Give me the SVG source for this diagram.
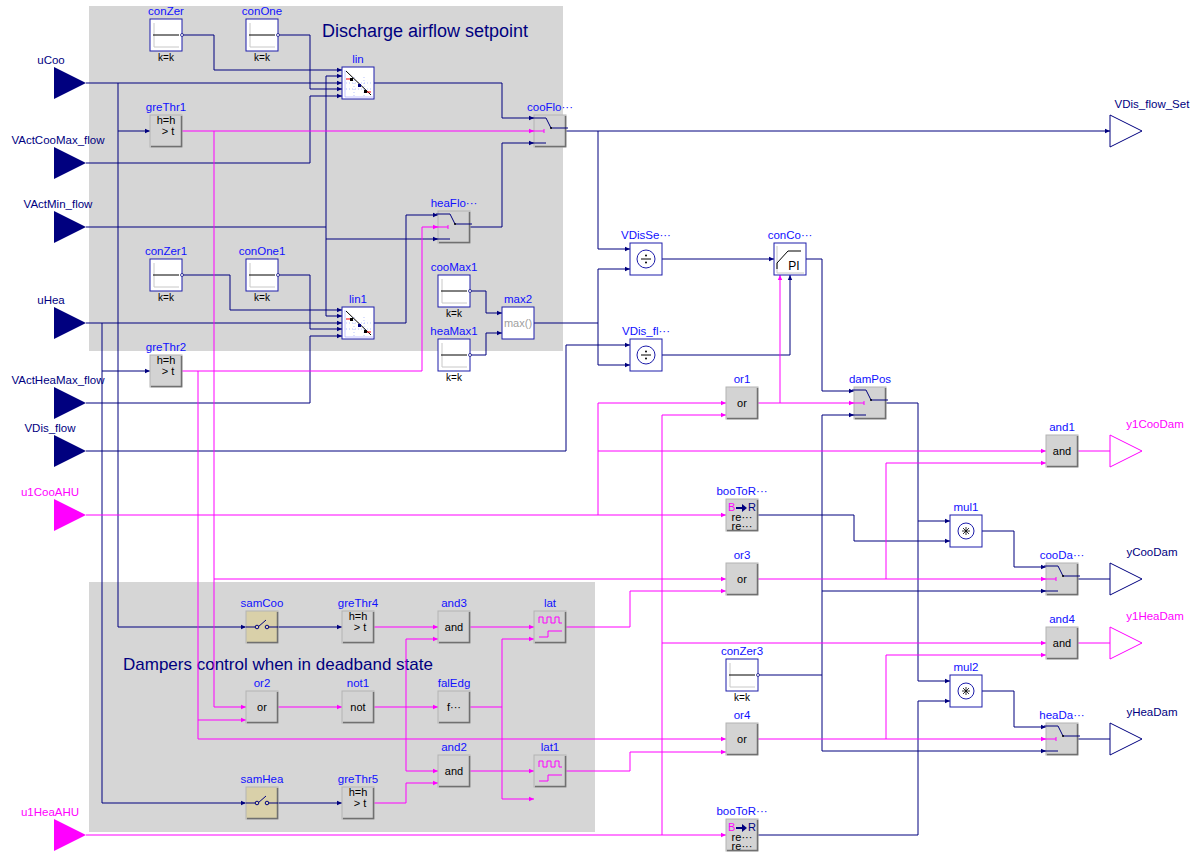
<svg xmlns="http://www.w3.org/2000/svg" width="1193" height="858" viewBox="0 0 1193 858">
<style>
text{font-family:"Liberation Sans",Arial,sans-serif}
.lb{font-size:11.5px;fill:#1010ff;text-anchor:middle}
.kk{font-size:10px;fill:#000;text-anchor:middle}
.in{font-size:11px;fill:#000;text-anchor:middle}
.pl{font-size:11.5px;fill:#00007f;text-anchor:middle}
.pm{font-size:11.5px;fill:#ff00ff;text-anchor:middle}
.n{fill:none;stroke:#00007f;stroke-width:1;marker-end:url(#an)}
.m{fill:none;stroke:#ff00ff;stroke-width:1;marker-end:url(#am)}
.nn{fill:none;stroke:#00007f;stroke-width:1}
.mm{fill:none;stroke:#ff00ff;stroke-width:1}
.big{font-size:18px;fill:#00007f}
</style>
<defs>
<marker id="an" markerWidth="6" markerHeight="6" refX="5" refY="3" orient="auto" markerUnits="userSpaceOnUse"><path d="M0,0.8 L5,3 L0,5.2z" fill="#00007f"/></marker>
<marker id="am" markerWidth="6" markerHeight="6" refX="5" refY="3" orient="auto" markerUnits="userSpaceOnUse"><path d="M0,0.8 L5,3 L0,5.2z" fill="#ff00ff"/></marker>
<g id="i-gb"><rect x="0" y="0" width="32" height="32" fill="#d3d3d3" stroke="#b4b4b4"/><path d="M1,31.5 H31.5 V1" fill="none" stroke="#707070" stroke-width="1.5"/></g>
<g id="i-wb"><rect x="0" y="0" width="32" height="32" fill="#fff" stroke="#1c1caa"/></g>
<g id="i-cst"><use href="#i-wb"/><path d="M4,28 V4 M4,28 H29" stroke="#c8c8c8" fill="none"/><path d="M3,16 H29" stroke="#000"/><circle cx="32" cy="16" r="1.5" fill="#fff" stroke="#00007f" stroke-width="0.7"/></g>
<g id="i-swi"><use href="#i-gb"/><path d="M-2,3 H8 L12,3 L17,13 M17,13 H34" stroke="#00007f" fill="none"/><circle cx="17" cy="13" r="1" fill="#000"/><path d="M-2,16 H8 M10,14 V18 M8,16 H10" stroke="#ff00ff" fill="none"/><path d="M-2,28 H12" stroke="#00007f" fill="none"/></g>
<g id="i-lin"><use href="#i-wb"/><path d="M3,30 V3 M3,30 H31" stroke="#a0a0ff" stroke-width="0.6" fill="none"/><path d="M4,16 H30 M4,22 H30 M12,10 V30 M22,10 V30" stroke="#8aa0ff" stroke-dasharray="1,2" stroke-width="0.6"/><path d="M4,4 L29,28" stroke="#000"/><path d="M4,12 H9 M23,25 H29" stroke="#f00" stroke-width="1.2"/><rect x="8" y="11" width="3" height="3" fill="#000"/><rect x="16" y="17" width="3" height="3" fill="#00007f"/><rect x="22" y="23" width="3" height="3" fill="#000"/></g>
<g id="i-gt"><use href="#i-gb"/><text x="16" y="9" class="in">h=h</text><text x="18" y="20" class="in">&gt; t</text></g>
<g id="i-dv"><use href="#i-wb"/><circle cx="16" cy="16" r="9" fill="#fff" stroke="#1c1caa"/><path d="M11,16 H21" stroke="#000"/><circle cx="16" cy="12.5" r="1" fill="#000"/><circle cx="16" cy="19.5" r="1" fill="#000"/></g>
<g id="i-ml"><use href="#i-wb"/><circle cx="16" cy="16" r="8" fill="#fff" stroke="#1c1caa"/><path d="M12,16 H20 M16,12 V20 M13,13 L19,19 M19,13 L13,19" stroke="#000" stroke-width="0.8"/></g>
<g id="i-lat"><use href="#i-gb"/><path d="M5,12 V6 H9 V12 H13 V6 H17 V12 H21 V6 H25 V12 H28 M5,26 H14 V20 H28" stroke="#ff00ff" fill="none"/></g>
<g id="i-sam"><rect x="0" y="0" width="32" height="32" fill="#d9d0a9" stroke="#b4b4b4"/><path d="M1,31.5 H31.5 V1" fill="none" stroke="#707070" stroke-width="1.5"/><path d="M0,16 H10 M21,16 H32 M12,16 L20,9" stroke="#00007f" fill="none"/><circle cx="11" cy="16" r="1.8" fill="#d9d0a9" stroke="#00007f"/><circle cx="21" cy="16" r="1.8" fill="#d9d0a9" stroke="#00007f"/></g>
<g id="i-b2r"><use href="#i-gb"/><text x="2" y="12" font-size="11" fill="#ff00ff">B</text><path d="M10,8 H16 V5 L21,9 L16,13 V10 H10z" fill="#00007f"/><text x="22" y="12" font-size="11" fill="#00007f">R</text><text x="16" y="22" class="in">re···</text><text x="16" y="31" class="in">re···</text></g>
</defs>

<rect x="89" y="6" width="474" height="345" fill="#d6d6d6"/>
<rect x="89" y="582" width="506" height="250" fill="#d6d6d6"/>
<text x="322" y="37" class="big">Discharge airflow setpoint</text>
<text x="123" y="670" class="big" style="font-size:17px">Dampers control when in deadband state</text>

<g id="connectors">
<path class="n" d="M86,83 H342"/>
<path class="n" d="M118,83 V627 H246"/>
<path class="n" d="M118,131 H150"/>
<path class="n" d="M86,323 H342"/>
<path class="n" d="M102,323 V803 H246"/>
<path class="n" d="M102,371 H150"/>
<path class="n" d="M86,163 H310 V96 H342"/>
<path class="n" d="M182,35 H214 V70 H342"/>
<path class="n" d="M278,35 H310 V89 H342"/>
<path class="nn" d="M86,227 H326"/>
<path class="n" d="M326,227 V76 H342"/>
<path class="n" d="M326,227 V316 H342"/>
<path class="n" d="M326,239 H438"/>
<path class="n" d="M182,275 H230 V310 H342"/>
<path class="n" d="M278,275 H310 V329 H342"/>
<path class="n" d="M86,403 H310 V336 H342"/>
<path class="n" d="M374,83 H502 V118 H534"/>
<path class="n" d="M470,227 H502 V143 H534"/>
<path class="n" d="M374,323 H406 V215 H438"/>
<path class="n" d="M566,131 H1110"/>
<path class="n" d="M598,131 V249 H630"/>
<path class="nn" d="M534,323 H598"/>
<path class="n" d="M598,323 V269 H630"/>
<path class="n" d="M598,323 V365 H630"/>
<path class="n" d="M86,451 H566 V345 H630"/>
<path class="n" d="M470,291 H486 V313 H502"/>
<path class="n" d="M470,355 H486 V333 H502"/>
<path class="n" d="M662,259 H774"/>
<path class="n" d="M662,355 H790 V275"/>
<path class="n" d="M806,259 H822 V391 H854"/>
<path class="nn" d="M758,675 H822"/>
<path class="n" d="M822,675 V415 H854"/>
<path class="n" d="M822,591 H1046"/>
<path class="n" d="M822,675 V751 H1046"/>
<path class="n" d="M886,403 H918 V681 H950"/>
<path class="n" d="M918,521 H950"/>
<path class="n" d="M758,515 H854 V541 H950"/>
<path class="n" d="M982,531 H1014 V567 H1046"/>
<path class="n" d="M982,691 H1014 V727 H1046"/>
<path class="n" d="M758,835 H918 V701 H950"/>
<path class="nn" d="M1078,579 H1110"/>
<path class="nn" d="M1078,739 H1110"/>
<path class="n" d="M278,627 H342"/>
<path class="n" d="M278,803 H342"/>

<path class="m" d="M182,131 H534"/>
<path class="m" d="M214,131 V707 H246"/>
<path class="m" d="M214,579 H726"/>
<path class="m" d="M182,371 H422 V227 H438"/>
<path class="m" d="M198,371 V739 H726"/>
<path class="m" d="M198,720 H246"/>
<path class="m" d="M86,515 H726"/>
<path class="m" d="M598,515 V403 H726"/>
<path class="m" d="M598,451 H1046"/>
<path class="m" d="M86,835 H726"/>
<path class="m" d="M662,835 V415 H726"/>
<path class="m" d="M662,643 H1046"/>
<path class="m" d="M758,403 H854"/>
<path class="m" d="M780,403 V275"/>
<path class="m" d="M758,579 H1046"/>
<path class="m" d="M886,579 V463 H1046"/>
<path class="m" d="M758,739 H1046"/>
<path class="m" d="M886,739 V655 H1046"/>
<path class="mm" d="M1078,451 H1110"/>
<path class="mm" d="M1078,643 H1110"/>
<path class="m" d="M374,627 H438"/>
<path class="m" d="M470,627 H534"/>
<path class="m" d="M278,707 H342"/>
<path class="m" d="M374,707 H438"/>
<path class="m" d="M406,707 V639 H438"/>
<path class="m" d="M406,707 V771 H438"/>
<path class="m" d="M374,803 H406 V783 H438"/>
<path class="mm" d="M470,707 H502"/>
<path class="m" d="M502,707 V639 H534"/>
<path class="m" d="M502,707 V799 H534"/>
<path class="m" d="M470,771 H534"/>
<path class="m" d="M566,627 H630 V591 H726"/>
<path class="m" d="M566,771 H630 V752 H726"/>
</g>

<g id="uCoo"><polygon points="54,67 86,83 54,99" fill="#00007f"/><text x="51" y="64" class="pl">uCoo</text></g>
<g id="VActCooMax_flow"><polygon points="54,147 86,163 54,179" fill="#00007f"/><text x="58" y="144" class="pl">VActCooMax_flow</text></g>
<g id="VActMin_flow"><polygon points="54,211 86,227 54,243" fill="#00007f"/><text x="58" y="208" class="pl">VActMin_flow</text></g>
<g id="uHea"><polygon points="54,307 86,323 54,339" fill="#00007f"/><text x="51" y="304" class="pl">uHea</text></g>
<g id="VActHeaMax_flow"><polygon points="54,387 86,403 54,419" fill="#00007f"/><text x="58" y="384" class="pl">VActHeaMax_flow</text></g>
<g id="VDis_flow"><polygon points="54,435 86,451 54,467" fill="#00007f"/><text x="50" y="432" class="pl">VDis_flow</text></g>
<g id="u1CooAHU"><polygon points="54,499 86,515 54,531" fill="#ff00ff"/><text x="50" y="496" class="pm">u1CooAHU</text></g>
<g id="u1HeaAHU"><polygon points="54,819 86,835 54,851" fill="#ff00ff"/><text x="50" y="816" class="pm">u1HeaAHU</text></g>

<g id="VDis_flow_Set"><polygon points="1110,115 1142,131 1110,147" fill="#fff" stroke="#00007f"/><text x="1152" y="108" class="pl">VDis_flow_Set</text></g>
<g id="y1CooDam"><polygon points="1110,435 1142,451 1110,467" fill="#fff" stroke="#ff00ff"/><text x="1155" y="428" class="pm">y1CooDam</text></g>
<g id="yCooDam"><polygon points="1110,563 1142,579 1110,595" fill="#fff" stroke="#00007f"/><text x="1152" y="556" class="pl">yCooDam</text></g>
<g id="y1HeaDam"><polygon points="1110,627 1142,643 1110,659" fill="#fff" stroke="#ff00ff"/><text x="1155" y="620" class="pm">y1HeaDam</text></g>
<g id="yHeaDam"><polygon points="1110,723 1142,739 1110,755" fill="#fff" stroke="#00007f"/><text x="1152" y="716" class="pl">yHeaDam</text></g>

<g id="conZer" transform="translate(150,19)"><use href="#i-cst"/><text x="16" y="-4" class="lb">conZer</text><text x="16" y="42" class="kk">k=k</text></g>
<g id="conOne" transform="translate(246,19)"><use href="#i-cst"/><text x="16" y="-4" class="lb">conOne</text><text x="16" y="42" class="kk">k=k</text></g>
<g id="lin" transform="translate(342,67)"><use href="#i-lin"/><text x="16" y="-4" class="lb">lin</text></g>
<g id="greThr1" transform="translate(150,115)"><use href="#i-gt"/><text x="16" y="-4" class="lb">greThr1</text></g>
<g id="cooFlo" transform="translate(534,115)"><use href="#i-swi"/><text x="16" y="-4" class="lb">cooFlo···</text></g>
<g id="heaFlo" transform="translate(438,211)"><use href="#i-swi"/><text x="16" y="-4" class="lb">heaFlo···</text></g>
<g id="conZer1" transform="translate(150,259)"><use href="#i-cst"/><text x="16" y="-4" class="lb">conZer1</text><text x="16" y="42" class="kk">k=k</text></g>
<g id="conOne1" transform="translate(246,259)"><use href="#i-cst"/><text x="16" y="-4" class="lb">conOne1</text><text x="16" y="42" class="kk">k=k</text></g>
<g id="lin1" transform="translate(342,307)"><use href="#i-lin"/><text x="16" y="-4" class="lb">lin1</text></g>
<g id="cooMax1" transform="translate(438,275)"><use href="#i-cst"/><text x="16" y="-4" class="lb">cooMax1</text><text x="16" y="42" class="kk">k=k</text></g>
<g id="heaMax1" transform="translate(438,339)"><use href="#i-cst"/><text x="16" y="-4" class="lb">heaMax1</text><text x="16" y="42" class="kk">k=k</text></g>
<g id="max2" transform="translate(502,307)"><use href="#i-wb"/><text x="16" y="20" class="in" style="fill:#a0a0a0">max()</text><text x="16" y="-4" class="lb">max2</text></g>
<g id="greThr2" transform="translate(150,355)"><use href="#i-gt"/><text x="16" y="-4" class="lb">greThr2</text></g>
<g id="VDisSet_nor" transform="translate(630,243)"><use href="#i-dv"/><text x="16" y="-4" class="lb">VDisSe···</text></g>
<g id="VDis_flow_nor" transform="translate(630,339)"><use href="#i-dv"/><text x="16" y="-4" class="lb">VDis_fl···</text></g>
<g id="conCon" transform="translate(774,243)"><use href="#i-wb"/><path d="M3,30 V3 M3,30 H30" stroke="#c8c8c8" fill="none"/><path d="M3,26 V20 L14,8 H27" stroke="#000" fill="none"/><text x="20" y="27" class="in" style="font-size:12px">PI</text><text x="16" y="-4" class="lb">conCo···</text></g>
<g id="or1" transform="translate(726,387)"><use href="#i-gb"/><text x="16" y="20" class="in">or</text><text x="16" y="-4" class="lb">or1</text></g>
<g id="damPos" transform="translate(854,387)"><use href="#i-swi"/><text x="16" y="-4" class="lb">damPos</text></g>
<g id="and1" transform="translate(1046,435)"><use href="#i-gb"/><text x="16" y="20" class="in">and</text><text x="16" y="-4" class="lb">and1</text></g>
<g id="booToRea" transform="translate(726,499)"><use href="#i-b2r"/><text x="16" y="-4" class="lb">booToR···</text></g>
<g id="mul1" transform="translate(950,515)"><use href="#i-ml"/><text x="16" y="-4" class="lb">mul1</text></g>
<g id="or3" transform="translate(726,563)"><use href="#i-gb"/><text x="16" y="20" class="in">or</text><text x="16" y="-4" class="lb">or3</text></g>
<g id="cooDam" transform="translate(1046,563)"><use href="#i-swi"/><text x="16" y="-4" class="lb">cooDa···</text></g>
<g id="and4" transform="translate(1046,627)"><use href="#i-gb"/><text x="16" y="20" class="in">and</text><text x="16" y="-4" class="lb">and4</text></g>
<g id="conZer3" transform="translate(726,659)"><use href="#i-cst"/><text x="16" y="-4" class="lb">conZer3</text><text x="16" y="42" class="kk">k=k</text></g>
<g id="mul2" transform="translate(950,675)"><use href="#i-ml"/><text x="16" y="-4" class="lb">mul2</text></g>
<g id="or4" transform="translate(726,723)"><use href="#i-gb"/><text x="16" y="20" class="in">or</text><text x="16" y="-4" class="lb">or4</text></g>
<g id="heaDam" transform="translate(1046,723)"><use href="#i-swi"/><text x="16" y="-4" class="lb">heaDa···</text></g>
<g id="booToRea1" transform="translate(726,819)"><use href="#i-b2r"/><text x="16" y="-4" class="lb">booToR···</text></g>
<g id="samCoo" transform="translate(246,611)"><use href="#i-sam"/><text x="16" y="-4" class="lb">samCoo</text></g>
<g id="greThr4" transform="translate(342,611)"><use href="#i-gt"/><text x="16" y="-4" class="lb">greThr4</text></g>
<g id="and3" transform="translate(438,611)"><use href="#i-gb"/><text x="16" y="20" class="in">and</text><text x="16" y="-4" class="lb">and3</text></g>
<g id="lat" transform="translate(534,611)"><use href="#i-lat"/><text x="16" y="-4" class="lb">lat</text></g>
<g id="or2" transform="translate(246,691)"><use href="#i-gb"/><text x="16" y="20" class="in">or</text><text x="16" y="-4" class="lb">or2</text></g>
<g id="not1" transform="translate(342,691)"><use href="#i-gb"/><text x="16" y="20" class="in">not</text><text x="16" y="-4" class="lb">not1</text></g>
<g id="falEdg" transform="translate(438,691)"><use href="#i-gb"/><text x="16" y="20" class="in">f···</text><text x="16" y="-4" class="lb">falEdg</text></g>
<g id="and2" transform="translate(438,755)"><use href="#i-gb"/><text x="16" y="20" class="in">and</text><text x="16" y="-4" class="lb">and2</text></g>
<g id="lat1" transform="translate(534,755)"><use href="#i-lat"/><text x="16" y="-4" class="lb">lat1</text></g>
<g id="samHea" transform="translate(246,787)"><use href="#i-sam"/><text x="16" y="-4" class="lb">samHea</text></g>
<g id="greThr5" transform="translate(342,787)"><use href="#i-gt"/><text x="16" y="-4" class="lb">greThr5</text></g>
</svg>
